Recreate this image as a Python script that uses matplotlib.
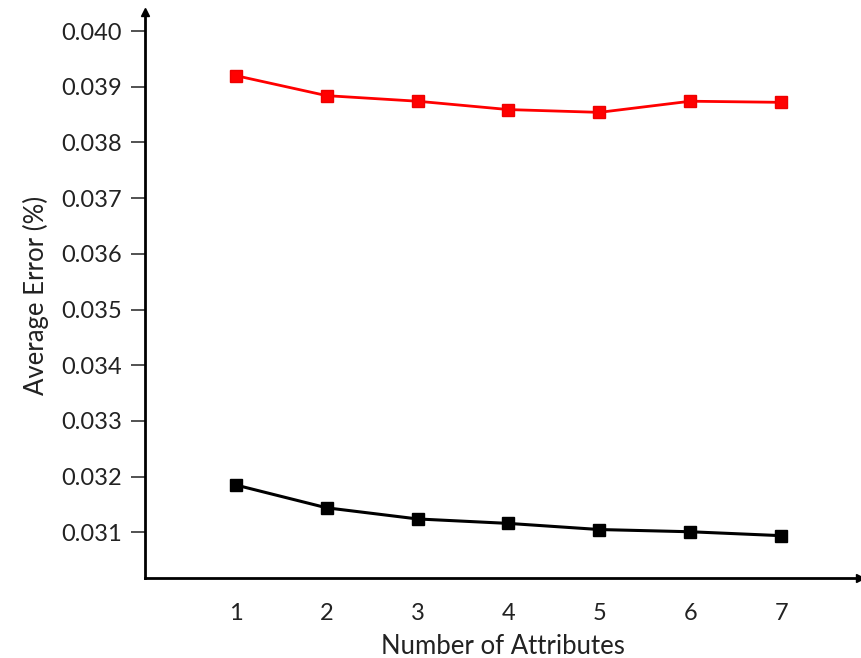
import matplotlib.pyplot as plt

# data
attributes = [1, 2, 3, 4, 5, 6, 7]
error_red = [0.03920, 0.03884, 0.03874, 0.03859, 0.03854, 0.03874, 0.03872]
error_black = [0.03185, 0.03144, 0.03124, 0.03116, 0.03105, 0.03101, 0.03094]
y_ticks = [0.031, 0.032, 0.033, 0.034, 0.035, 0.036, 0.037, 0.038, 0.039, 0.040]

plt.rcParams['font.family'] = ['Lato', 'DejaVu Sans']

fig = plt.figure(figsize=(8.62, 6.58), dpi=100)
ax = fig.add_axes([0.168, 0.1216, 0.83, 0.86])

ax.plot(attributes, error_red, color='#ff0000', lw=2, marker='s', ms=9,
        markerfacecolor='#ff0000', markeredgecolor='#ee0000')
ax.plot(attributes, error_black, color='black', lw=2.2, marker='s', ms=9)

ax.set_xlim(0, 7.87)
ax.set_ylim(0.03018, 0.04034)
ax.set_xticks(attributes)
ax.set_yticks(y_ticks)
ax.set_yticklabels([f"{v:.3f}" for v in y_ticks])

ax.spines['top'].set_visible(False)
ax.spines['right'].set_visible(False)
ax.spines['left'].set_linewidth(2)
ax.spines['bottom'].set_linewidth(2)

# arrow heads on the axes
ax.plot(1, 0, '>k', ms=6, transform=ax.transAxes, clip_on=False)
ax.plot(0, 1, '^k', ms=6, transform=ax.transAxes, clip_on=False)

ax.tick_params(axis='y', direction='out', length=10, width=1.2, labelsize=17,
               pad=6.5, colors='#333333', labelcolor='#222222')
ax.tick_params(axis='x', length=0, labelsize=17, pad=18, labelcolor='#222222')

ax.set_xlabel('Number of Attributes', fontsize=18.5, labelpad=7, color='#222222')
ax.set_ylabel('Average Error (%)', fontsize=18.5, labelpad=9, color='#222222')

fig.savefig('out.png', dpi=100)
